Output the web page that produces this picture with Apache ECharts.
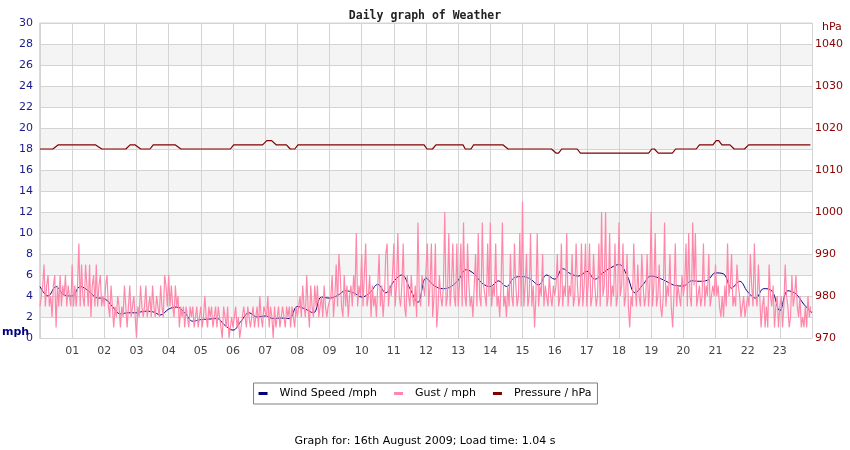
<!DOCTYPE html>
<html>
<head>
<meta charset="utf-8">
<title>Daily graph of Weather</title>
<script src="https://cdn.jsdelivr.net/npm/echarts@6/dist/echarts.min.js"></script>
<style>
  html, body { margin: 0; padding: 0; background: #fff; }
  #chart { width: 850px; height: 450px; }
</style>
</head>
<body>
<div id="chart"></div>
<script>
// hour tick labels on the x axis (00 and 24 are left blank)
const hourTicks = ['', '01', '02', '03', '04', '05', '06', '07', '08', '09', '10', '11', '12',
  '13', '14', '15', '16', '17', '18', '19', '20', '21', '22', '23', ''];

// wind speed (mph), one reading every 15 minutes from 00:00
const WIND_STEP = 0.25;
const windSpeed = [
  4.9, 4.0, 4.9, 4.1, 4.0, 4.9, 4.5, 3.85,
  3.75, 3.0, 2.3, 2.4, 2.4, 2.55, 2.5, 2.2,
  2.75, 2.95, 2.4, 1.6, 1.75, 1.8, 1.85, 1.2,
  0.75, 1.6, 2.4, 2.0, 2.1, 1.85, 1.9, 1.85,
  3.0, 2.75, 2.4, 3.9, 3.8, 4.05, 4.5, 4.3,
  3.9, 4.3, 5.1, 4.3, 5.4, 6.0, 4.7, 3.4,
  5.7, 5.0, 4.7, 4.85, 5.5, 6.5, 6.1, 5.2,
  4.9, 5.45, 4.9, 5.75, 5.85, 5.6, 5.05, 6.0,
  5.6, 6.6, 6.1, 5.9, 6.35, 5.6, 6.2, 6.7,
  7.0, 5.95, 4.3, 5.1, 5.9, 5.7, 5.35, 5.0,
  4.95, 5.45, 5.4, 5.5, 6.2, 6.1, 4.75, 5.4,
  4.4, 3.8, 4.7, 4.5, 2.6, 4.5, 4.2, 3.2, 2.4
];

// gust (mph), one reading every 2.5 minutes, one row per hour
const GUST_STEP = 1 / 24;
const gust = [
  3, 4, 5, 7, 3, 5, 6, 3, 4, 2, 5, 6, 1, 5, 3, 6, 3, 5, 4, 6, 3, 5, 4, 3,
  7, 3, 5, 3, 5, 9, 3, 7, 4, 3, 7, 5, 3, 7, 2, 5, 6, 3, 7, 3, 5, 6, 3, 4,
  3, 5, 6, 3, 2, 5, 3, 1, 3, 2, 4, 3, 1, 3, 2, 5, 3, 1, 3, 5, 2, 3, 4, 2,
  0, 3, 2, 5, 3, 2, 3, 5, 2, 3, 4, 2, 5, 3, 2, 4, 3, 2, 5, 3, 2, 6, 5, 3,
  6, 3, 5, 3, 2, 5, 3, 4, 1, 3, 2, 3, 1, 3, 2, 1, 3, 2, 3, 1, 2, 3, 1, 2,
  3, 1, 2, 4, 2, 1, 3, 2, 3, 1, 2, 3, 1, 3, 2, 1, 0, 3, 2, 1, 3, 0, 1, 2,
  1, 2, 3, 1, 2, 0, 1, 2, 3, 2, 1, 3, 2, 1, 2, 3, 1, 2, 3, 1, 4, 2, 1, 3,
  3, 2, 4, 1, 3, 2, 0, 3, 1, 2, 3, 1, 2, 3, 2, 1, 3, 2, 3, 1, 3, 2, 1, 3,
  2, 3, 4, 2, 5, 3, 2, 6, 3, 1, 5, 3, 2, 5, 3, 5, 2, 3, 4, 2, 5, 3, 2, 3,
  3, 4, 6, 2, 4, 7, 3, 8, 6, 3, 2, 6, 3, 5, 2, 4, 5, 3, 6, 4, 10, 3, 5, 4,
  8, 3, 6, 9, 3, 4, 6, 2, 5, 3, 4, 2, 5, 8, 3, 5, 2, 4, 8, 9, 3, 5, 4, 6,
  9, 3, 5, 10, 4, 3, 5, 9, 3, 2, 6, 4, 3, 6, 4, 3, 5, 2, 11, 4, 3, 6, 5, 4,
  4, 9, 3, 5, 9, 2, 4, 9, 1, 3, 6, 4, 3, 5, 12, 3, 4, 10, 3, 5, 9, 4, 3, 9,
  3, 5, 9, 3, 11, 4, 3, 9, 5, 3, 4, 2, 5, 8, 3, 10, 4, 3, 11, 5, 4, 3, 9, 4,
  11, 3, 5, 4, 9, 3, 4, 2, 5, 11, 3, 4, 2, 5, 3, 8, 4, 3, 9, 5, 3, 4, 10, 3,
  13, 3, 5, 8, 3, 4, 10, 3, 5, 1, 4, 10, 3, 5, 4, 8, 3, 5, 4, 3, 6, 4, 3, 5,
  4, 5, 8, 3, 4, 9, 3, 5, 4, 10, 3, 5, 4, 8, 3, 4, 9, 5, 3, 4, 9, 3, 5, 9,
  3, 5, 9, 3, 4, 8, 5, 3, 4, 9, 3, 12, 4, 5, 12, 3, 4, 10, 3, 5, 4, 9, 3, 4,
  11, 4, 5, 9, 3, 4, 8, 3, 1, 4, 3, 9, 5, 3, 7, 4, 3, 8, 5, 3, 4, 8, 3, 5,
  12, 3, 5, 10, 3, 4, 7, 3, 2, 4, 11, 3, 5, 4, 8, 3, 1, 4, 9, 3, 5, 4, 3, 6,
  4, 5, 9, 3, 10, 4, 3, 11, 5, 10, 3, 4, 5, 3, 4, 9, 3, 5, 4, 8, 3, 4, 5, 4,
  7, 4, 5, 3, 2, 4, 2, 5, 3, 9, 4, 5, 8, 3, 4, 3, 7, 5, 4, 2, 3, 4, 2, 3,
  4, 3, 8, 5, 3, 9, 4, 3, 7, 4, 1, 3, 4, 1, 3, 1, 7, 4, 3, 5, 1, 3, 4, 1,
  3, 4, 1, 3, 7, 4, 3, 1, 2, 6, 3, 4, 6, 3, 2, 4, 1, 2, 1, 3, 1, 4, 2, 3
];

// pressure (hPa): times (hours) where the reading changes, and the reading there
const pressureTimes = [
  0, 0.40, 0.57, 1.72, 1.92, 2.67, 2.80, 2.95, 3.13, 3.42, 3.52, 4.20, 4.38,
  5.92, 6.02, 6.92, 7.05, 7.20, 7.34, 7.66, 7.78, 7.92, 8.02,
  11.94, 12.03, 12.20, 12.31, 13.15, 13.22, 13.40, 13.48, 14.39, 14.55,
  15.90, 16.05, 16.12, 16.22, 16.70, 16.80, 18.92, 19.02, 19.10, 19.22,
  19.66, 19.76, 20.40, 20.50, 20.92, 21.02, 21.10, 21.20, 21.45, 21.58,
  21.90, 22.03, 23.95
];
const pressure = [
  1015, 1015, 1016, 1016, 1015, 1015, 1016, 1016, 1015, 1015, 1016, 1016, 1015,
  1015, 1016, 1016, 1017, 1017, 1016, 1016, 1015, 1015, 1016,
  1016, 1015, 1015, 1016, 1016, 1015, 1015, 1016, 1016, 1015,
  1015, 1014, 1014, 1015, 1015, 1014, 1014, 1015, 1015, 1014,
  1014, 1015, 1015, 1016, 1016, 1017, 1017, 1016, 1016, 1015,
  1015, 1016, 1016
];

const seriesNames = ['Wind Speed /mph', 'Gust / mph', 'Pressure / hPa'];
const seriesColors = ['#000080', '#ff88aa', '#800000'];

const gridColor = '#d4d4d4';
const fontFace = 'DejaVu Sans';

const chart = echarts.init(document.getElementById('chart'));

chart.setOption({
  animation: false,
  color: seriesColors,
  title: [
    {
      text: 'Daily graph of Weather',
      left: 'center',
      top: 5,
      textStyle: { fontFamily: 'DejaVu Sans Mono', fontWeight: 'bold', fontSize: 11.5, color: '#222' }
    },
    {
      text: 'Graph for: 16th August 2009; Load time: 1.04 s',
      left: 'center',
      top: 431,
      textStyle: { fontFamily: fontFace, fontWeight: 'normal', fontSize: 11, color: '#000' }
    }
  ],
  legend: {
    data: seriesNames,
    left: 'center',
    top: 383,
    icon: 'rect',
    itemWidth: 9,
    itemHeight: 3,
    itemGap: 17,
    padding: [5, 6, 5, 5],
    borderColor: '#808080',
    borderWidth: 1,
    borderRadius: 0,
    textStyle: { fontFamily: fontFace, fontSize: 11, color: '#000', padding: [0, 0, 0, 7] }
  },
  graphic: [
    {
      type: 'text', left: 2, top: 327,
      style: { text: 'mph', fill: '#000080', font: 'bold 11px "DejaVu Sans"' }
    },
    {
      type: 'text', left: 822, top: 22,
      style: { text: 'hPa', fill: '#800000', font: '11px "DejaVu Sans"' }
    }
  ],
  grid: {
    left: 40, right: 38, top: 23, bottom: 112,
    show: true, borderColor: gridColor, borderWidth: 1, backgroundColor: 'transparent'
  },
  xAxis: {
    type: 'value',
    min: 0, max: 24, interval: 1,
    axisLine: { lineStyle: { color: gridColor } },
    axisTick: { show: false },
    axisLabel: {
      margin: 8,
      fontFamily: fontFace, fontSize: 11, color: '#444',
      formatter: v => hourTicks[v]
    },
    splitLine: { show: true, lineStyle: { color: gridColor } }
  },
  yAxis: [
    {
      type: 'value',
      min: 0, max: 30, interval: 2,
      axisLine: { show: true, lineStyle: { color: gridColor, width: 1.5 } },
      axisTick: { show: false },
      axisLabel: { margin: 7, fontFamily: fontFace, fontSize: 11, color: '#1a1a8c' },
      splitLine: { show: true, lineStyle: { color: gridColor } },
      splitArea: { show: true, areaStyle: { color: ['#ffffff', '#f4f4f4'] } }
    },
    {
      type: 'value',
      position: 'right',
      min: 970, max: 1045, interval: 10,
      axisLine: { show: false },
      axisTick: { show: false },
      axisLabel: {
        margin: 3, fontFamily: fontFace, fontSize: 11, color: '#8b0000', showMaxLabel: false,
        formatter: v => String(v)
      },
      splitLine: { show: false }
    }
  ],
  series: [
    {
      name: seriesNames[0],
      type: 'line',
      yAxisIndex: 0,
      smooth: 0.4,
      showSymbol: false,
      z: 2,
      lineStyle: { width: 1, color: seriesColors[0] },
      data: windSpeed.map((v, i) => [i * WIND_STEP, v])
    },
    {
      name: seriesNames[1],
      type: 'line',
      yAxisIndex: 0,
      showSymbol: false,
      z: 3,
      lineStyle: { width: 1.2, color: seriesColors[1] },
      data: gust.map((v, i) => [i * GUST_STEP, v])
    },
    {
      name: seriesNames[2],
      type: 'line',
      yAxisIndex: 1,
      showSymbol: false,
      z: 4,
      lineStyle: { width: 1.2, color: seriesColors[2] },
      data: pressure.map((v, i) => [pressureTimes[i], v])
    }
  ]
});
</script>
</body>
</html>
